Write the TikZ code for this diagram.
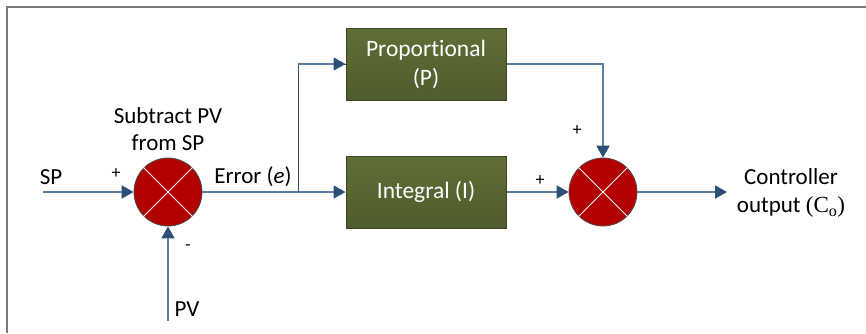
\documentclass[tikz,border=0pt]{standalone}
\usepackage{fontspec}
\setmainfont{Carlito}[Ligatures=NoCommon]
\newfontfamily\serifc{Liberation Serif}
\usetikzlibrary{arrows.meta}
\definecolor{linec}{HTML}{5B7FA0}
\definecolor{tipc}{HTML}{2C5075}
\definecolor{boxtop}{HTML}{5F6F35}
\definecolor{boxbot}{HTML}{4F5C2C}
\definecolor{boxline}{HTML}{3D4424}
\definecolor{sumc}{HTML}{B30000}
\definecolor{framec}{HTML}{7A7A7A}
\tikzset{
  blockbox/.style={draw=boxline, line width=1pt, top color=boxtop, bottom color=boxbot,
    minimum width=160pt, minimum height=72pt, text=white, align=center,
    font=\fontsize{23.5}{29}\selectfont, inner sep=0pt},
  sumnode/.style={circle, draw=black!70, line width=0.8pt, fill=sumc, minimum size=68pt, inner sep=0pt},
  conn/.style={draw=linec, line width=1.8pt, -{Triangle[length=12pt,width=13pt,color=tipc]}},
  lbl/.style={font=\fontsize{23}{27.5}\selectfont, align=center, inner sep=0pt},
  sgn/.style={font=\fontsize{18}{20}\selectfont, inner sep=0pt}
}
\begin{document}
\begin{tikzpicture}[x=1pt,y=-1pt]
\useasboundingbox (0,0) rectangle (866,333);
% frame
\draw[framec, line width=2pt] (7,333) -- (7,7) -- (866,7);
% nodes
\node[sumnode] (s1) at (168,192) {};
\node[sumnode] (s2) at (603,192) {};
\foreach \s in {s1,s2}{
  \draw[white, line width=0.8pt] (\s.45) -- (\s.225);
  \draw[white, line width=0.8pt] (\s.135) -- (\s.315);
}
\node[blockbox] (P) at (426,64) {Proportional\\(P)};
\node[blockbox] (I) at (426,192) {Integral (I)};
\coordinate (sp) at (43,192);
\coordinate (pv) at (168,321);
\coordinate (br) at (298,192);
\coordinate (out) at (727,192);
% connectors
\draw[conn] (sp) -- (s1.west);
\draw[conn] (pv) -- (s1.south);
\draw[conn] (s1.east) -- (I.west);
\draw[draw=tipc, line width=1pt] (br) |- (P.west);
\draw[conn] ([xshift=-0.5pt]br |- P.west) -- (P.west);
\draw[conn] (P.east) -| (s2.north);
\draw[conn] (I.east) -- (s2.west);
\draw[conn] (s2.east) -- (out);
% labels
\node[lbl] (tsp) at (51,177) {SP};
\node[sgn] (p1) at (116,174) {+};
\node[lbl] (tsub) at (168,129) {Subtract PV\\from SP};
\node[sgn] (m1) at (188,248) {-};
\node[lbl] (tpv) at (187,309) {PV};
\node[lbl] (terr) at (253,177) {Error (\textit{e})};
\node[sgn] (p2) at (540,181) {+};
\node[sgn] (p3) at (577,131) {+};
\node[lbl] (tout) at (791,193) {Controller\\output {\serifc(C\textsubscript{o})}};
\end{tikzpicture}
\end{document}
